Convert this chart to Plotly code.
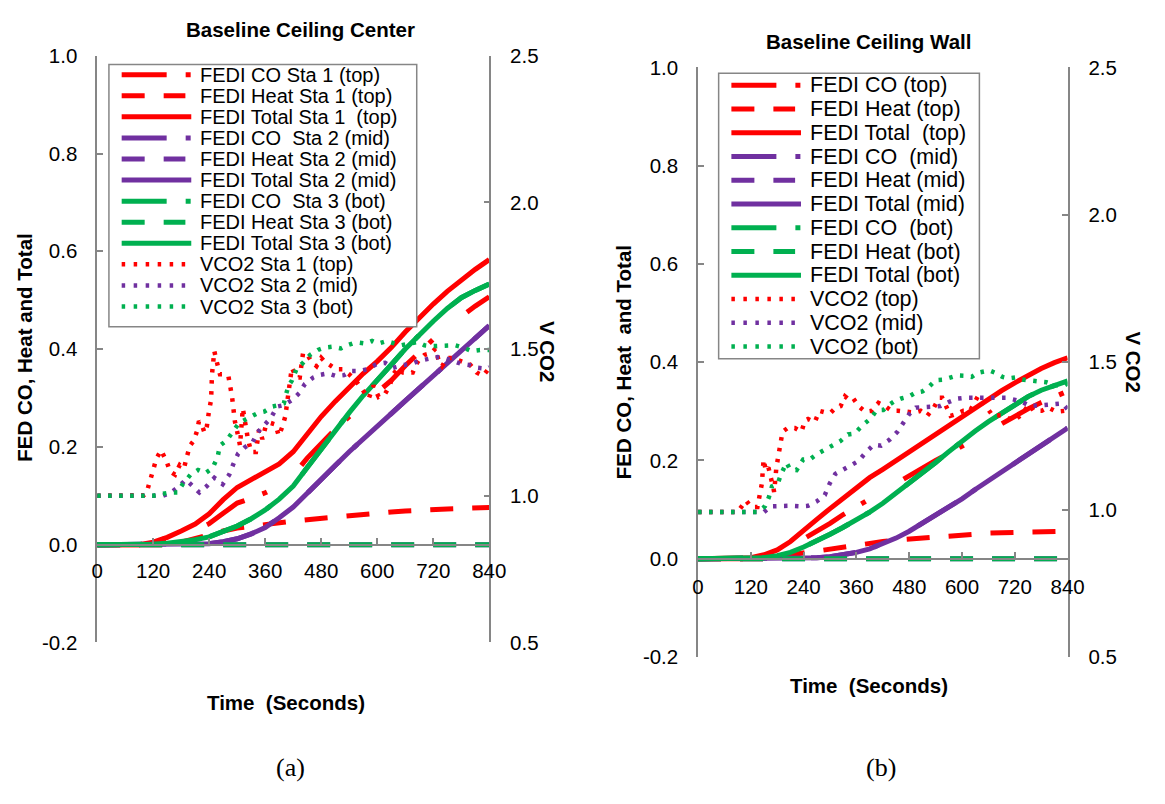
import plotly.graph_objects as go

W, H = 1165, 804

# ---------------- data ----------------
T = [0, 30, 60, 90, 120, 150, 180, 210, 240, 270, 300, 330, 360, 390, 420, 450,
     480, 510, 540, 570, 600, 630, 660, 690, 720, 750, 780, 810, 840]

# (a) Baseline Ceiling Center
a_co_top = [0, 0, 0, 0, 0.005, 0.015, 0.023, 0.029, 0.043, 0.064, 0.085, 0.095, 0.106, 0.12, 0.142,
            0.177, 0.208, 0.236, 0.262, 0.287, 0.31, 0.336, 0.366, 0.394, 0.42, 0.445, 0.467, 0.488, 0.507]
a_heat_top = [0, 0, 0, 0, 0, 0, 0.005, 0.013, 0.02, 0.028, 0.034, 0.038, 0.042, 0.045, 0.048,
              0.051, 0.054, 0.057, 0.06, 0.063, 0.065, 0.067, 0.069, 0.071, 0.072, 0.073, 0.074, 0.075, 0.076]
a_total_top = [0, 0, 0, 0, 0.005, 0.015, 0.028, 0.042, 0.063, 0.092, 0.117, 0.133, 0.148, 0.165, 0.19,
               0.228, 0.262, 0.293, 0.322, 0.35, 0.375, 0.403, 0.435, 0.465, 0.492, 0.518, 0.541, 0.563, 0.583]
a_co_mid = [0, 0, 0, 0, 0, 0, 0, 0.001, 0.002, 0.006, 0.012, 0.022, 0.035, 0.055, 0.077,
            0.105, 0.135, 0.162, 0.19, 0.215, 0.242, 0.268, 0.294, 0.32, 0.345, 0.37, 0.396, 0.422, 0.448]
a_heat_mid = [0] * 29
a_total_mid = [0, 0, 0, 0, 0, 0, 0, 0.001, 0.002, 0.006, 0.012, 0.022, 0.035, 0.055, 0.077,
               0.105, 0.135, 0.162, 0.19, 0.215, 0.242, 0.268, 0.294, 0.32, 0.345, 0.37, 0.396, 0.422, 0.448]
a_co_bot = [0, 0, 0, 0, 0.001, 0.003, 0.006, 0.01, 0.016, 0.026, 0.038, 0.053, 0.071, 0.093, 0.12,
            0.158, 0.196, 0.234, 0.27, 0.305, 0.338, 0.368, 0.4, 0.43, 0.457, 0.483, 0.505, 0.52, 0.533]
a_heat_bot = [0] * 29
a_total_bot = [0, 0, 0, 0, 0.001, 0.003, 0.006, 0.01, 0.016, 0.026, 0.038, 0.053, 0.071, 0.093, 0.12,
               0.158, 0.196, 0.234, 0.27, 0.305, 0.338, 0.368, 0.4, 0.43, 0.457, 0.483, 0.505, 0.52, 0.533]

a_vco2_top_t = [0, 20, 40, 60, 80, 100, 106, 113, 120, 127, 137, 144, 149, 156, 167, 177, 186, 193, 199, 207,
                214, 218, 224, 230, 235, 240, 244, 246, 249, 251, 256, 263, 274, 281, 289, 292, 295, 302, 306, 312,
                316, 320, 323, 330, 340, 347, 354, 361, 372, 382, 389, 396, 403, 410, 414, 417, 427, 434, 441, 448,
                459, 470, 480, 490, 497, 512, 526, 540, 554, 564, 575, 582, 592, 603, 617, 627, 634, 645, 655, 666,
                676, 683, 690, 701, 715, 725, 732, 739, 750, 763, 785, 799, 813, 827, 840]
a_vco2_top = [1.0, 1.0, 1.0, 1.0, 1.0, 1.002, 1.011, 1.05, 1.094, 1.127, 1.155, 1.133, 1.116, 1.083, 1.072,
              1.105, 1.094, 1.138, 1.171, 1.188, 1.221, 1.254, 1.243, 1.215, 1.237, 1.293, 1.326, 1.414, 1.458,
              1.493, 1.458, 1.414, 1.414, 1.409, 1.337, 1.304, 1.254, 1.204, 1.171, 1.298, 1.259, 1.215, 1.193,
              1.149, 1.149, 1.226, 1.193, 1.237, 1.248, 1.243, 1.204, 1.232, 1.27, 1.353, 1.392, 1.436, 1.403,
              1.403, 1.486, 1.486, 1.458, 1.442, 1.47, 1.453, 1.447, 1.431, 1.431, 1.414, 1.392, 1.37, 1.348,
              1.332, 1.376, 1.337, 1.348, 1.376, 1.414, 1.436, 1.42, 1.42, 1.42, 1.447, 1.464, 1.48, 1.486,
              1.502, 1.458, 1.442, 1.47, 1.469, 1.458, 1.447, 1.42, 1.409, 1.436]
a_vco2_mid_t = [0, 30, 60, 90, 120, 141, 158, 174, 190, 203, 219, 235, 251, 269, 283, 291, 302, 317, 333, 344,
                359, 372, 386, 400, 417, 433, 445, 463, 477, 494, 512, 529, 543, 561, 578, 599, 617, 634, 655, 672,
                690, 711, 729, 746, 764, 781, 799, 816, 834, 840]
a_vco2_mid = [1.0, 1.0, 1.0, 1.0, 1.0, 1.0, 1.011, 1.03, 1.055, 1.033, 1.011, 1.033, 1.061, 1.039, 1.072,
              1.105, 1.144, 1.166, 1.182, 1.217, 1.243, 1.265, 1.304, 1.309, 1.326, 1.35, 1.381, 1.403, 1.412,
              1.417, 1.408, 1.411, 1.425, 1.425, 1.431, 1.449, 1.453, 1.436, 1.445, 1.449, 1.46, 1.467, 1.473,
              1.469, 1.458, 1.449, 1.445, 1.436, 1.433, 1.438]
a_vco2_bot_t = [0, 30, 60, 90, 120, 137, 156, 172, 183, 200, 216, 232, 247, 258, 263, 277, 291, 304, 317, 331,
                344, 358, 375, 389, 400, 405, 410, 417, 428, 441, 456, 473, 487, 505, 522, 536, 547, 561, 575, 589,
                603, 620, 634, 651, 669, 687, 701, 718, 735, 753, 767, 785, 802, 820, 840]
a_vco2_bot = [1.0, 1.0, 1.0, 1.0, 1.0, 1.006, 1.011, 1.011, 1.039, 1.072, 1.088, 1.077, 1.094, 1.132, 1.171,
              1.188, 1.221, 1.248, 1.259, 1.27, 1.282, 1.287, 1.304, 1.309, 1.315, 1.348, 1.375, 1.392, 1.436,
              1.453, 1.48, 1.497, 1.505, 1.508, 1.502, 1.513, 1.519, 1.522, 1.519, 1.528, 1.519, 1.527, 1.519,
              1.513, 1.519, 1.524, 1.513, 1.51, 1.511, 1.513, 1.513, 1.505, 1.493, 1.497, 1.497]

# (b) Baseline Ceiling Wall
b_co_top = [0, 0, 0, 0, 0, 0.006, 0.014, 0.025, 0.04, 0.055, 0.072, 0.09, 0.106, 0.122, 0.137,
            0.153, 0.168, 0.184, 0.2, 0.214, 0.229, 0.245, 0.261, 0.276, 0.291, 0.305, 0.318, 0.33, 0.341]
b_heat_top = [0, 0, 0, 0, 0, 0, 0.004, 0.008, 0.012, 0.016, 0.02, 0.025, 0.029, 0.032, 0.035,
              0.038, 0.04, 0.042, 0.045, 0.048, 0.05, 0.051, 0.052, 0.053, 0.054, 0.054, 0.055, 0.055, 0.056]
b_total_top = [0, 0, 0, 0, 0.002, 0.008, 0.018, 0.035, 0.056, 0.08, 0.102, 0.124, 0.145, 0.165, 0.182,
               0.2, 0.218, 0.235, 0.252, 0.271, 0.29, 0.307, 0.325, 0.342, 0.358, 0.373, 0.387, 0.399, 0.409]
b_co_mid = [0, 0, 0, 0, 0, 0, 0, 0, 0.001, 0.002, 0.004, 0.008, 0.013, 0.02, 0.03,
            0.042, 0.056, 0.072, 0.088, 0.105, 0.122, 0.141, 0.159, 0.175, 0.192, 0.211, 0.229, 0.247, 0.266]
b_heat_mid = [0] * 29
b_total_mid = [0, 0, 0, 0, 0, 0, 0, 0, 0.001, 0.002, 0.004, 0.008, 0.013, 0.02, 0.03,
               0.042, 0.056, 0.072, 0.088, 0.105, 0.122, 0.141, 0.159, 0.175, 0.192, 0.211, 0.229, 0.247, 0.266]
b_co_bot = [0, 0, 0, 0, 0, 0.002, 0.006, 0.013, 0.024, 0.036, 0.05, 0.064, 0.079, 0.095, 0.113,
            0.133, 0.153, 0.174, 0.196, 0.218, 0.24, 0.26, 0.279, 0.297, 0.315, 0.33, 0.343, 0.353, 0.362]
b_heat_bot = [0] * 29
b_total_bot = [0, 0, 0, 0, 0, 0.002, 0.006, 0.013, 0.024, 0.036, 0.05, 0.064, 0.079, 0.095, 0.113,
               0.133, 0.153, 0.174, 0.196, 0.218, 0.24, 0.26, 0.279, 0.297, 0.315, 0.33, 0.343, 0.353, 0.362]

b_vco2_top_t = [0, 30, 60, 90, 109, 120, 135, 141, 145, 149, 154, 160, 165, 173, 178, 183, 187, 192, 204, 220,
                235, 243, 250, 265, 276, 291, 302, 313, 324, 334, 343, 352, 365, 380, 395, 410, 425, 440, 454, 492,
                506, 521, 536, 548, 555, 574, 587, 603, 618, 636, 651, 670, 688, 703, 718, 737, 752, 763, 781, 796,
                815, 833, 840]
b_vco2_top = [0.992, 0.992, 0.992, 0.992, 1.031, 1.009, 1.009, 1.049, 1.088, 1.17, 1.132, 1.143, 1.104, 1.06,
              1.143, 1.181, 1.225, 1.264, 1.277, 1.277, 1.264, 1.302, 1.307, 1.296, 1.335, 1.329, 1.329, 1.346,
              1.351, 1.384, 1.373, 1.379, 1.351, 1.332, 1.335, 1.362, 1.351, 1.335, 1.335, 1.329, 1.335, 1.318,
              1.346, 1.379, 1.379, 1.318, 1.324, 1.335, 1.335, 1.384, 1.357, 1.318, 1.32, 1.31, 1.302, 1.324,
              1.357, 1.335, 1.335, 1.346, 1.332, 1.335, 1.318]
b_vco2_mid_t = [0, 30, 60, 90, 120, 150, 165, 187, 209, 232, 250, 269, 288, 299, 312, 328, 347, 365, 380, 399,
                416, 436, 453, 468, 480, 495, 514, 532, 551, 570, 588, 607, 625, 644, 662, 681, 700, 718, 737, 755,
                774, 792, 811, 829, 840]
b_vco2_mid = [0.992, 0.992, 0.992, 0.992, 0.992, 0.992, 1.011, 1.013, 1.013, 1.011, 1.013, 1.027, 1.049, 1.088,
              1.121, 1.134, 1.148, 1.165, 1.192, 1.22, 1.217, 1.238, 1.264, 1.294, 1.324, 1.346, 1.349, 1.349,
              1.351, 1.365, 1.376, 1.379, 1.379, 1.376, 1.379, 1.379, 1.379, 1.373, 1.365, 1.351, 1.353, 1.357,
              1.36, 1.36, 1.34]
b_vco2_bot_t = [0, 30, 60, 90, 120, 135, 152, 161, 168, 181, 189, 201, 209, 224, 239, 254, 269, 288, 307, 324,
                341, 356, 373, 391, 406, 421, 436, 447, 462, 480, 495, 510, 525, 540, 558, 574, 589, 607, 622, 636,
                651, 662, 677, 692, 706, 721, 737, 755, 774, 792, 811, 829, 840]
b_vco2_bot = [0.992, 0.992, 0.992, 0.992, 0.992, 0.992, 1.011, 1.042, 1.079, 1.088, 1.121, 1.159, 1.137, 1.134,
              1.17, 1.17, 1.187, 1.203, 1.222, 1.233, 1.255, 1.258, 1.285, 1.307, 1.337, 1.338, 1.357, 1.368,
              1.377, 1.384, 1.397, 1.401, 1.417, 1.439, 1.441, 1.45, 1.455, 1.454, 1.45, 1.464, 1.47, 1.472,
              1.463, 1.45, 1.445, 1.448, 1.441, 1.437, 1.434, 1.432, 1.423, 1.417, 1.428]

x_ticks = [0, 120, 240, 360, 480, 600, 720, 840]
y_ticks = [-0.2, 0.0, 0.2, 0.4, 0.6, 0.8, 1.0]
y_ticktext = ["-0.2", "0.0", "0.2", "0.4", "0.6", "0.8", "1.0"]
y2_ticks = [0.5, 1.0, 1.5, 2.0, 2.5]
y2_ticktext = ["0.5", "1.0", "1.5", "2.0", "2.5"]

names_a = ["FEDI CO Sta 1 (top)", "FEDI Heat Sta 1 (top)", "FEDI Total Sta 1 \u00a0(top)",
           "FEDI CO \u00a0Sta 2 (mid)", "FEDI Heat Sta 2 (mid)", "FEDI Total Sta 2 (mid)",
           "FEDI CO \u00a0Sta 3 (bot)", "FEDI Heat Sta 3 (bot)", "FEDI Total Sta 3 (bot)",
           "VCO2 Sta 1 (top)", "VCO2 Sta 2 (mid)", "VCO2 Sta 3 (bot)"]
names_b = ["FEDI CO (top)", "FEDI Heat (top)", "FEDI Total \u00a0(top)",
           "FEDI CO \u00a0(mid)", "FEDI Heat (mid)", "FEDI Total (mid)",
           "FEDI CO \u00a0(bot)", "FEDI Heat (bot)", "FEDI Total (bot)",
           "VCO2 (top)", "VCO2 (mid)", "VCO2 (bot)"]

# ---------------- style ----------------
RED, PURPLE, GREEN = "#FF0000", "#7030A0", "#00B050"
GRAY = "#868686"
FONT = "Liberation Sans, Arial, sans-serif"
DASH_CO = "45px,19px,5px,44px"
DASH_HEAT = "23px,19px"
DASH_VCO2 = "3.5px,7.5px"
LW = 5
TXT = 20.5

fig = go.Figure()
styles = []  # (color, dash, width) per legend entry, in legend order


def add_panel(xa, ya, ya2, names, fed, vco2):
    colors = [RED, PURPLE, GREEN]
    dashes = [DASH_CO, DASH_HEAT, "solid"]
    k = 0
    for s in range(3):
        for j in range(3):
            fig.add_trace(go.Scatter(
                x=T, y=fed[s][j], mode="lines", xaxis=xa, yaxis=ya, name=names[k],
                line=dict(color=colors[s], width=LW, dash=dashes[j]),
                showlegend=False, hoverinfo="skip"))
            k += 1
    for s in range(3):
        fig.add_trace(go.Scatter(
            x=vco2[s][0], y=vco2[s][1], mode="lines", xaxis=xa, yaxis=ya2, name=names[k],
            line=dict(color=colors[s], width=4.5, dash=DASH_VCO2),
            showlegend=False, hoverinfo="skip"))
        k += 1


add_panel("x", "y", "y2", names_a,
          [[a_co_top, a_heat_top, a_total_top],
           [a_co_mid, a_heat_mid, a_total_mid],
           [a_co_bot, a_heat_bot, a_total_bot]],
          [[a_vco2_top_t, a_vco2_top], [a_vco2_mid_t, a_vco2_mid], [a_vco2_bot_t, a_vco2_bot]])
add_panel("x2", "y3", "y4", names_b,
          [[b_co_top, b_heat_top, b_total_top],
           [b_co_mid, b_heat_mid, b_total_mid],
           [b_co_bot, b_heat_bot, b_total_bot]],
          [[b_vco2_top_t, b_vco2_top], [b_vco2_mid_t, b_vco2_mid], [b_vco2_bot_t, b_vco2_bot]])


def fx(px):
    return px / W


def fy(py):
    return 1 - py / H


common_axis = dict(showline=True, linecolor=GRAY, linewidth=1.5, ticks="inside", ticklen=6,
                   tickcolor=GRAY, tickwidth=1.5, showgrid=False, zeroline=False,
                   tickfont=dict(family=FONT, size=TXT, color="black"))

# panel (a) geometry
ax_l, ax_r, ay_t, ay_b = 93, 493, 45, 649
ay_0 = ay_b - (ay_b - ay_t) / 6.0
# panel (b) geometry
bx_l, bx_r, by_t, by_b = 706, 1083, 57, 664
by_0 = by_b - (by_b - by_t) / 6.0

fig.update_layout(
    width=W, height=H, margin=dict(l=0, r=0, t=0, b=0),
    paper_bgcolor="white", plot_bgcolor="rgba(0,0,0,0)",
    font=dict(family=FONT, color="black"), showlegend=False,
    xaxis=dict(domain=[fx(ax_l), fx(ax_r)], range=[0, 840], anchor="free", position=fy(ay_0),
               tickvals=x_ticks, ticklabelstandoff=8, **common_axis),
    yaxis=dict(domain=[fy(ay_b), fy(ay_t)], range=[-0.2, 1.0], anchor="x",
               tickvals=y_ticks, ticktext=y_ticktext, ticklabelstandoff=14, **common_axis),
    yaxis2=dict(overlaying="y", side="right", anchor="x", range=[0.5, 2.5],
                tickvals=y2_ticks, ticktext=y2_ticktext, ticklabelstandoff=15, **common_axis),
    xaxis2=dict(domain=[fx(bx_l), fx(bx_r)], range=[0, 840], anchor="free", position=fy(by_0),
                tickvals=x_ticks, ticklabelstandoff=10, **common_axis),
    yaxis3=dict(domain=[fy(by_b), fy(by_t)], range=[-0.2, 1.0], anchor="x2",
                tickvals=y_ticks, ticktext=y_ticktext, ticklabelstandoff=14, **common_axis),
    yaxis4=dict(overlaying="y3", side="right", anchor="x2", range=[0.5, 2.5],
                tickvals=y2_ticks, ticktext=y2_ticktext, ticklabelstandoff=15, **common_axis),
)

# ---------------- legends (drawn as boxes, sample lines and texts) ----------------
shapes = []
ann = []
leg_styles = [(RED, "co"), (RED, "heat"), (RED, "total"),
              (PURPLE, "co"), (PURPLE, "heat"), (PURPLE, "total"),
              (GREEN, "co"), (GREEN, "heat"), (GREEN, "total"),
              (RED, "vco2"), (PURPLE, "vco2"), (GREEN, "vco2")]


def add_legend(names, box, row0, step, tsize):
    x0, y0, x1, y1 = box
    shapes.append(dict(type="rect", xref="paper", yref="paper", layer="above",
                       x0=fx(x0), x1=fx(x1), y0=fy(y1), y1=fy(y0),
                       line=dict(color=GRAY, width=1.5), fillcolor="white"))
    sx = x0 + 13
    for i, (nm, (col, kind)) in enumerate(zip(names, leg_styles)):
        yy = fy(row0 + i * step)
        if kind == "co":
            ln = dict(color=col, width=5, dash="45px,19px,5px,60px"); xe = sx + 71
        elif kind == "heat":
            ln = dict(color=col, width=5, dash="23px,19px"); xe = sx + 65
        elif kind == "total":
            ln = dict(color=col, width=5); xe = sx + 71
        else:
            ln = dict(color=col, width=4.5, dash="3.5px,8.5px"); xe = sx + 66
        shapes.append(dict(type="line", xref="paper", yref="paper", layer="above",
                           x0=fx(sx), x1=fx(xe), y0=yy, y1=yy, line=ln))
        ann.append(dict(text=nm, x=fx(x0 + 91), y=yy, xanchor="left", yanchor="middle",
                        font=dict(family=FONT, size=tsize, color="black")))


add_legend(names_a, (105, 54, 419, 324), 64.5, 21.7, 20)
add_legend(names_b, (727, 63, 993, 357), 75.5, 24.45, 21.5)

bold = dict(family=FONT, size=TXT, color="black", weight="bold")
serif = dict(family="Liberation Serif, Times New Roman, serif", size=26, color="black")
ann += [
    dict(text="Baseline Ceiling Center", x=fx(300), y=fy(18), font=bold),
    dict(text="Baseline Ceiling Wall", x=fx(880), y=fy(30), font=bold),
    dict(text="Time \u00a0(Seconds)", x=fx(286), y=fy(711), font=bold),
    dict(text="Time \u00a0(Seconds)", x=fx(880), y=fy(693), font=bold),
    dict(text="FED CO, Heat and Total", x=fx(18), y=fy(345), font=bold, textangle=-90),
    dict(text="FED CO, Heat \u00a0and Total", x=fx(630), y=fy(361), font=bold, textangle=-90),
    dict(text="V CO2", x=fx(552), y=fy(350), font=bold, textangle=90),
    dict(text="V CO2", x=fx(1150), y=fy(361), font=bold, textangle=90),
    dict(text="(a)", x=fx(290), y=fy(778), font=serif),
    dict(text="(b)", x=fx(893), y=fy(778), font=serif),
]
for a in ann:
    a.update(xref="paper", yref="paper", showarrow=False)
    a.setdefault("xanchor", "center")
    a.setdefault("yanchor", "middle")
fig.update_layout(annotations=ann, shapes=shapes)

fig.write_html("out.html")
